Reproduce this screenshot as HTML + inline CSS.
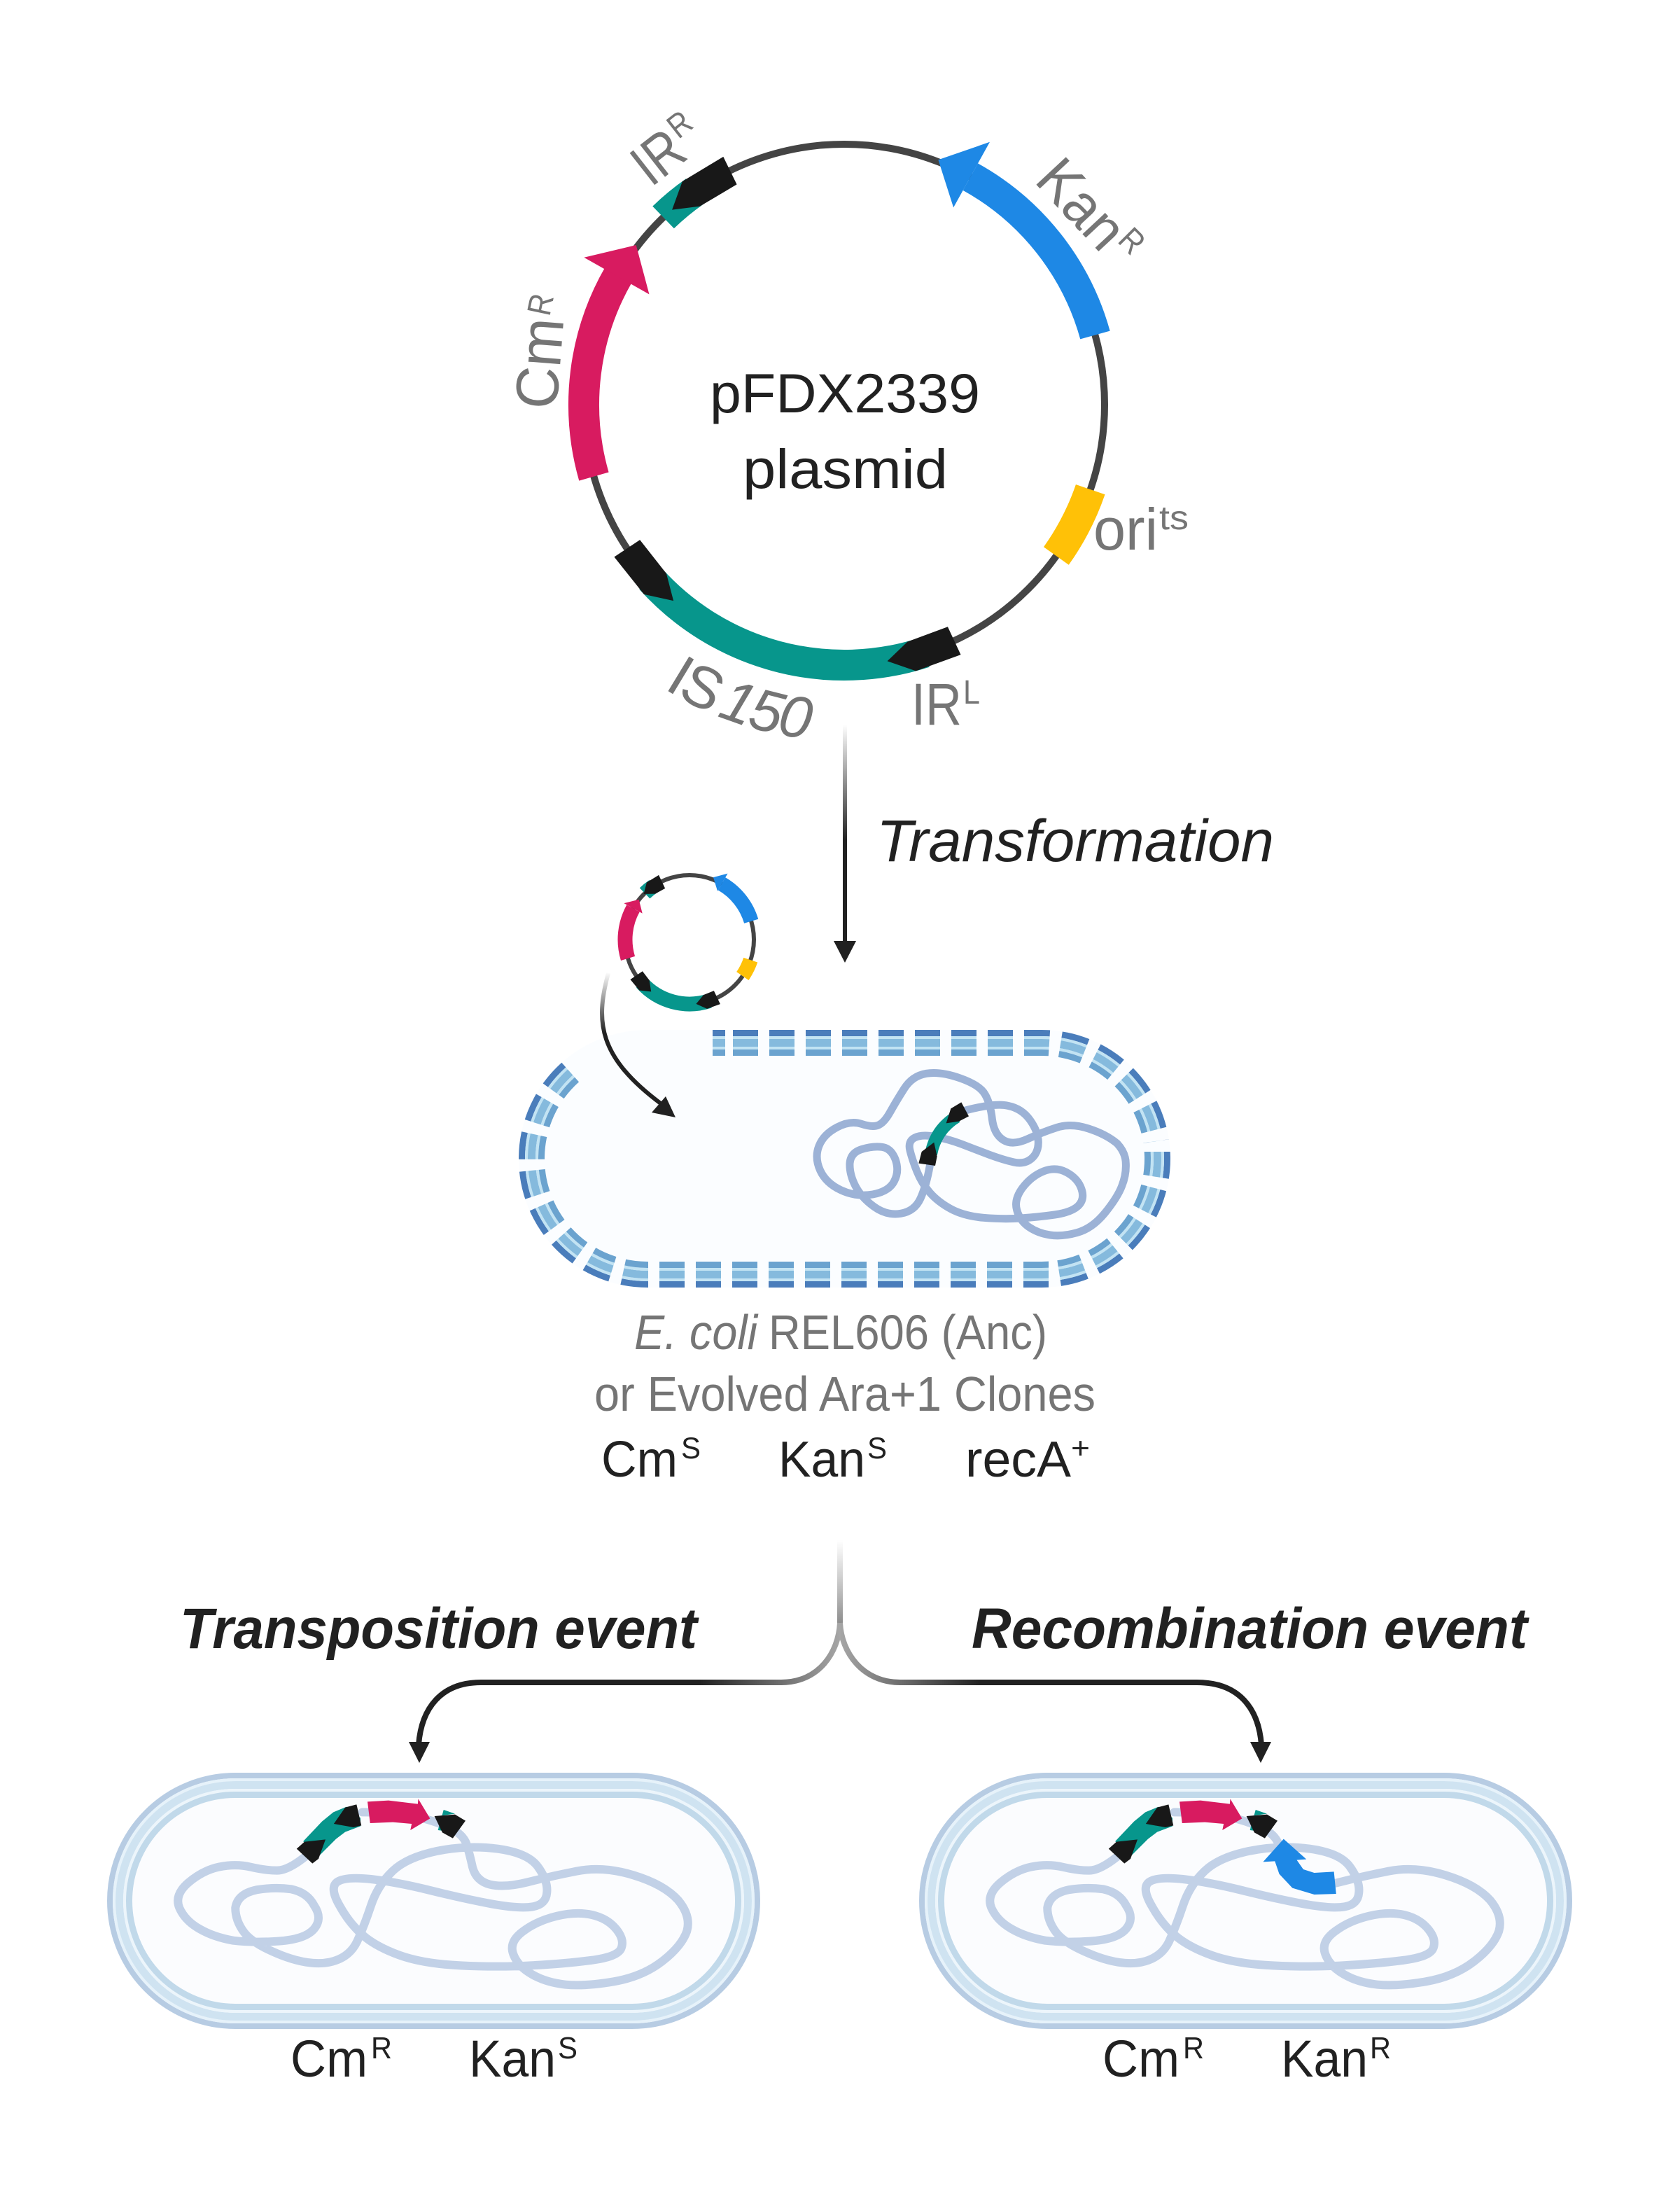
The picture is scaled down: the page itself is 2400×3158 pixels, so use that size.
<!DOCTYPE html>
<html><head><meta charset="utf-8"><style>
html,body{margin:0;padding:0;background:#fff}
svg{display:block}
text{font-family:"Liberation Sans",sans-serif}
.g{fill:#757575}.d{fill:#212121}
</style></head><body>
<svg xmlns="http://www.w3.org/2000/svg" width="2400" height="3158" viewBox="0 0 2400 3158">
<defs>
<linearGradient id="gv1" gradientUnits="userSpaceOnUse" x1="0" y1="1035" x2="0" y2="1200"><stop offset="0" stop-color="#212121" stop-opacity="0"/><stop offset="1" stop-color="#212121"/></linearGradient>
<linearGradient id="gc" gradientUnits="userSpaceOnUse" x1="0" y1="1388" x2="0" y2="1475"><stop offset="0" stop-color="#212121" stop-opacity="0"/><stop offset="1" stop-color="#212121"/></linearGradient>
<linearGradient id="gb" gradientUnits="userSpaceOnUse" x1="0" y1="2200" x2="0" y2="2320"><stop offset="0" stop-color="#999" stop-opacity="0"/><stop offset="1" stop-color="#8c8c8c"/></linearGradient>
<linearGradient id="gl" gradientUnits="userSpaceOnUse" x1="1200" y1="0" x2="1000" y2="0"><stop offset="0" stop-color="#a6a6a6"/><stop offset="1" stop-color="#212121"/></linearGradient>
<linearGradient id="gr" gradientUnits="userSpaceOnUse" x1="1200" y1="0" x2="1400" y2="0"><stop offset="0" stop-color="#a6a6a6"/><stop offset="1" stop-color="#212121"/></linearGradient>
<mask id="mem" maskUnits="userSpaceOnUse" x="0" y="0" width="2400" height="3158">
<g fill="none" stroke="#fff" stroke-width="46">
<path d="M1018 1489.5H1036"/>
<path stroke-dasharray="36 16" d="M1047 1489.5H1488A165.5 165.5 0 0 1 1652 1630"/>
<path stroke-dasharray="36 16" d="M1653.5 1645V1655A165.5 165.5 0 0 1 1505 1819"/>
<path stroke-dasharray="36 16" d="M1498 1820.5H925A165.5 165.5 0 0 1 759.5 1655A165.5 165.5 0 0 1 819 1528"/>
</g></mask>
<polygon id="pent" points="0,-394 -68,-388 -99,-358 -61,-345 0,-350" fill="#181818"/>
<polygon id="spent" points="0,-102 -20,-100 -31,-87 -16,-80 0,-81" fill="#181818"/>
<g id="capsule" fill="none">
<rect x="153" y="2532" width="933" height="366" rx="183" fill="#fbfcfe"/>
<rect x="157" y="2536" width="925" height="358" rx="179" stroke="#b7cce3" stroke-width="8"/>
<rect x="163" y="2542" width="913" height="346" rx="173" stroke="#e6f2fa" stroke-width="4"/>
<rect x="170.500" y="2549.500" width="898" height="331" rx="165.500" stroke="#cfe3f1" stroke-width="11"/>
<rect x="178" y="2557" width="883" height="316" rx="158" stroke="#ecf5fb" stroke-width="4"/>
<rect x="184.500" y="2563.500" width="870" height="303" rx="151.500" stroke="#c1d9ea" stroke-width="9"/>
</g>
<g id="bact">
<g transform="translate(130 2480) scale(.625 .33333)">
<path fill="none" stroke="#c2d1e7" stroke-width="12" stroke-linecap="round" vector-effect="non-scaling-stroke" d="M490 515Q450 575 425 575Q400 575 365 560Q330 545 292 560Q255 575 222 628Q190 680 202 735Q215 790 248 825Q280 860 325 875Q370 885 428 878Q490 870 510 825Q530 780 510 725Q495 670 458 655Q420 645 378 658Q335 675 330 735Q330 790 350 840Q370 890 435 938Q500 985 545 968Q590 950 608 880Q625 810 640 725Q655 640 688 580Q720 520 790 492Q860 465 930 482Q1000 500 1022 560Q1045 620 1042 670Q1040 720 1010 730Q980 740 915 718Q850 695 775 660Q700 625 640 612Q580 600 562 625Q545 650 568 725Q590 800 620 850Q650 900 705 938Q760 975 845 982Q930 990 1005 982Q1080 975 1142 960Q1205 945 1212 908Q1220 870 1200 825Q1180 780 1145 765Q1110 750 1065 770Q1020 790 988 835Q955 880 965 932Q975 985 1008 1020Q1040 1055 1085 1064Q1130 1072 1195 1051Q1260 1030 1305 965Q1350 900 1362 835Q1372 770 1342 702Q1310 635 1240 595Q1170 555 1110 578Q1050 600 998 625Q945 650 912 635Q880 620 872 560Q865 500 858 460Q850 420 820 392Q790 365 745 345Q700 325 620 325"/>
<polygon fill="#07968c" points="485,450 528,365 554,325 584,302 616,350 616,385 581,410 560,440 520,515"/>
<polygon fill="#181818" points="470,482 488,452 536,442 520,525 506,545"/>
<polygon fill="#181818" points="607,292 618,382 600,390 555,375 581,305"/>
<polygon fill="#d81b60" points="632,280 680,275 747,290 748,268 775,352 730,402 733,375 690,368 638,372"/>
<polygon fill="#07968c" points="806,315 832,332 800,340 805,405 793,402"/>
<polygon fill="#181818" points="785,342 832,335 856,362 827,437 803,412"/>
</g>
</g>
</defs>

<!-- Large plasmid -->
<circle cx="1206" cy="578" r="372" fill="none" stroke="#444" stroke-width="10"/>
<g fill="none" stroke-width="44">
<circle r="372" pathLength="360" stroke="#1e88e5" stroke-dasharray="45.500 400" transform="translate(1206 578) rotate(-61)"/>
<circle r="372" pathLength="360" stroke="#d81b60" stroke-dasharray="46 400" transform="translate(1206 578) rotate(164)"/>
<circle r="372" pathLength="360" stroke="#ffc107" stroke-dasharray="16.500 400" transform="translate(1206 578) rotate(19)"/>
<circle r="372" pathLength="360" stroke="#07968c" stroke-dasharray="66 400" transform="translate(1206 578) rotate(72)"/>
<circle r="372" pathLength="360" stroke="#07968c" stroke-dasharray="9 400" transform="translate(1206 578) rotate(226)"/>
</g>
<polygon fill="#1e88e5" points="0,-429 0,-322 -52,-371" transform="translate(1206 578) rotate(29)"/>
<polygon fill="#d81b60" points="0,-427 0,-320 52,-371" transform="translate(1206 578) rotate(299.500)"/>
<use href="#pent" transform="translate(1206 578) rotate(334)"/>
<use href="#pent" transform="translate(1206 578) rotate(236.500)"/>
<use href="#pent" transform="translate(1206 578) rotate(155) scale(-1 1)"/>

<text class="d" x="1014" y="589" font-size="79" textLength="386" lengthAdjust="spacingAndGlyphs">pFDX2339</text>
<text class="d" x="1061" y="697" font-size="79" textLength="293" lengthAdjust="spacingAndGlyphs">plasmid</text>

<g transform="translate(1476 259) rotate(47)"><text class="g" x="0" y="0" font-size="84" textLength="142" lengthAdjust="spacingAndGlyphs">Kan</text></g>
<g transform="translate(1595 345) rotate(45)"><text class="g" x="0" y="0" font-size="48" textLength="30" lengthAdjust="spacingAndGlyphs">R</text></g>
<g transform="translate(795 586) rotate(-85.500)"><text class="g" x="0" y="0" font-size="86" textLength="130" lengthAdjust="spacingAndGlyphs">Cm</text></g>
<g transform="translate(785 453) rotate(-78)"><text class="g" x="0" y="0" font-size="48" textLength="30" lengthAdjust="spacingAndGlyphs">R</text></g>
<path id="pIS" fill="none" d="M948 983A480 480 0 0 0 1206 1058"/>
<text class="g" font-size="84" letter-spacing="-2"><textPath href="#pIS">IS<tspan font-style="italic" dx="10">150</tspan></textPath></text>
<g transform="translate(938 262) rotate(-38)">
<text class="g" x="-10" y="0" font-size="84" textLength="70" lengthAdjust="spacingAndGlyphs">IR</text>
<text class="g" x="63" y="-30" font-size="48" textLength="30" lengthAdjust="spacingAndGlyphs">R</text>
</g>
<text class="g" x="1302" y="1035" font-size="84" textLength="72" lengthAdjust="spacingAndGlyphs">IR</text>
<text class="g" x="1376" y="1005" font-size="48" textLength="24" lengthAdjust="spacingAndGlyphs">L</text>
<text class="g" x="1562" y="785" font-size="84" textLength="92" lengthAdjust="spacingAndGlyphs">ori</text>
<text class="g" x="1656" y="756" font-size="48" textLength="42" lengthAdjust="spacingAndGlyphs">ts</text>

<!-- Transformation arrow -->
<rect x="1204" y="1035" width="6" height="312" fill="url(#gv1)"/>
<polygon fill="#212121" points="1191,1344 1223,1344 1207,1375"/>
<text class="d" x="1252" y="1230" font-size="84" font-style="italic" textLength="568" lengthAdjust="spacingAndGlyphs">Transformation</text>

<!-- Small plasmid -->
<circle cx="985" cy="1342" r="92" fill="none" stroke="#444" stroke-width="6"/>
<g fill="none" stroke-width="21">
<circle r="92" pathLength="360" stroke="#1e88e5" stroke-dasharray="43.500 400" transform="translate(985 1342) rotate(-60)"/>
<circle r="92" pathLength="360" stroke="#d81b60" stroke-dasharray="46 400" transform="translate(985 1342) rotate(163)"/>
<circle r="92" pathLength="360" stroke="#ffc107" stroke-dasharray="16 400" transform="translate(985 1342) rotate(18.500)"/>
<circle r="92" pathLength="360" stroke="#07968c" stroke-dasharray="66 400" transform="translate(985 1342) rotate(72)"/>
<circle r="92" pathLength="360" stroke="#07968c" stroke-dasharray="10 400" transform="translate(985 1342) rotate(226)"/>
</g>
<polygon fill="#1e88e5" points="0,-109 0,-80 -15,-94" transform="translate(985 1342) rotate(30)"/>
<polygon fill="#d81b60" points="0,-107 0,-77 15,-91" transform="translate(985 1342) rotate(299)"/>
<use href="#spent" transform="translate(985 1342) rotate(334.500)"/>
<use href="#spent" transform="translate(985 1342) rotate(236)"/>
<use href="#spent" transform="translate(985 1342) rotate(154.500) scale(-1 1)"/>

<!-- Dashed cell -->
<rect x="741" y="1471" width="931" height="368" rx="184" fill="#fbfdff"/>
<g mask="url(#mem)" fill="none">
<rect x="745.500" y="1475.500" width="922" height="359" rx="179.500" stroke="#4a7dbb" stroke-width="9"/>
<rect x="752" y="1482" width="909" height="346" rx="173" stroke="#c2e3f3" stroke-width="4"/>
<rect x="759.500" y="1489.500" width="894" height="331" rx="165.500" stroke="#85badd" stroke-width="11"/>
<rect x="767" y="1497" width="879" height="316" rx="158" stroke="#c2e3f3" stroke-width="4"/>
<rect x="773.500" y="1503.500" width="866" height="303" rx="151.500" stroke="#6ba3cf" stroke-width="9"/>
</g>
<g transform="translate(1100 1480) scale(.33333)">
<path fill="none" stroke="#9cb2d6" stroke-width="33" stroke-linecap="round" d="M830 320Q960 285 1020 298Q1080 310 1115 360Q1150 410 1150 455Q1150 500 1120 525Q1090 550 1045 540Q1000 530 940 508Q880 485 820 462Q760 440 705 430Q650 420 620 435Q590 450 600 490Q610 530 630 580Q650 630 685 670Q720 710 775 740Q830 770 915 778Q1000 785 1075 780Q1150 775 1220 765Q1290 755 1320 728Q1350 700 1335 655Q1320 610 1272 584Q1225 558 1172 579Q1120 600 1082 650Q1045 700 1058 745Q1070 790 1110 818Q1150 845 1200 852Q1250 860 1315 842Q1380 825 1435 758Q1490 690 1508 642Q1527 594 1525 547Q1525 500 1488 460Q1440 420 1365 396Q1290 372 1230 391Q1170 410 1105 440Q1040 470 1000 445Q960 420 952 355Q945 290 922 250Q900 210 815 180Q730 150 670 160Q610 170 575 225Q540 280 515 325Q490 370 465 381Q440 392 392 376Q345 360 288 390Q230 420 210 470Q190 520 215 575Q240 630 305 660Q370 690 440 678Q510 665 532 622Q555 580 538 530Q520 480 480 475Q440 470 392 485Q345 500 342 545Q340 590 365 640Q390 690 445 730Q500 770 560 760Q620 750 645 695Q670 640 685 555"/>
<path fill="none" stroke="#07968c" stroke-width="54" d="M690 505Q710 400 800 345"/>
<polygon fill="#181818" points="637,545 708,555 716,515 703,455 650,495"/>
<polygon fill="#181818" points="820,283 852,343 810,365 755,373 775,310"/>
</g>

<!-- Curved arrow -->
<path fill="none" stroke="url(#gc)" stroke-width="6" d="M869 1390C850 1460 855 1510 945 1577"/>
<polygon fill="#212121" points="951,1566 965,1596 931,1589"/>

<!-- Cell labels -->
<text class="g" x="906" y="1927" font-size="70" font-style="italic" textLength="176" lengthAdjust="spacingAndGlyphs">E. coli</text>
<text class="g" x="1098" y="1927" font-size="70" textLength="398" lengthAdjust="spacingAndGlyphs">REL606 (Anc)</text>
<text class="g" x="849" y="2015" font-size="70" textLength="716" lengthAdjust="spacingAndGlyphs">or Evolved Ara+1 Clones</text>
<text class="d" x="859" y="2109" font-size="72" textLength="109" lengthAdjust="spacingAndGlyphs">Cm</text>
<text class="d" x="973" y="2083" font-size="43" textLength="28" lengthAdjust="spacingAndGlyphs">S</text>
<text class="d" x="1112" y="2109" font-size="72" textLength="124" lengthAdjust="spacingAndGlyphs">Kan</text>
<text class="d" x="1239" y="2083" font-size="43" textLength="28" lengthAdjust="spacingAndGlyphs">S</text>
<text class="d" x="1379" y="2109" font-size="72" textLength="151" lengthAdjust="spacingAndGlyphs">recA</text>
<text class="d" x="1530" y="2083" font-size="43" textLength="27" lengthAdjust="spacingAndGlyphs">+</text>

<!-- Headers -->
<text class="d" x="257" y="2354" font-size="82" font-weight="bold" font-style="italic" textLength="739" lengthAdjust="spacingAndGlyphs">Transposition event</text>
<text class="d" x="1388" y="2354" font-size="82" font-weight="bold" font-style="italic" textLength="794" lengthAdjust="spacingAndGlyphs">Recombination event</text>

<!-- Branch arrows -->
<rect x="1196" y="2200" width="8" height="122" fill="url(#gb)"/>
<path fill="none" stroke="url(#gl)" stroke-width="8" d="M1200 2318C1198 2360 1170 2403 1116 2403H687C630 2403 602 2440 598 2492"/>
<path fill="none" stroke="url(#gr)" stroke-width="8" d="M1200 2318C1202 2360 1232 2403 1286 2403H1710C1770 2403 1798 2440 1802 2492"/>
<polygon fill="#212121" points="584,2488 614,2488 599,2518"/>
<polygon fill="#212121" points="1786,2488 1816,2488 1801,2518"/>

<!-- Bottom cells -->
<use href="#capsule"/>
<use href="#bact"/>
<use href="#capsule" transform="translate(1160 0)"/>
<use href="#bact" transform="translate(1160 0)"/>
<g transform="translate(1290 2480) scale(.625 .33333)">
<polygon fill="#1e88e5" points="985,580 940,585 915,570 900,530 922,527 870,440 823,538 850,535 860,590 890,650 940,678 990,675"/>
</g>

<text class="d" x="415" y="2966" font-size="74" textLength="110" lengthAdjust="spacingAndGlyphs">Cm</text>
<text class="d" x="530" y="2940" font-size="44" textLength="30" lengthAdjust="spacingAndGlyphs">R</text>
<text class="d" x="670" y="2966" font-size="74" textLength="124" lengthAdjust="spacingAndGlyphs">Kan</text>
<text class="d" x="797" y="2940" font-size="44" textLength="28" lengthAdjust="spacingAndGlyphs">S</text>
<text class="d" x="1575" y="2966" font-size="74" textLength="110" lengthAdjust="spacingAndGlyphs">Cm</text>
<text class="d" x="1690" y="2940" font-size="44" textLength="30" lengthAdjust="spacingAndGlyphs">R</text>
<text class="d" x="1830" y="2966" font-size="74" textLength="124" lengthAdjust="spacingAndGlyphs">Kan</text>
<text class="d" x="1957" y="2940" font-size="44" textLength="30" lengthAdjust="spacingAndGlyphs">R</text>
</svg>
</body></html>
